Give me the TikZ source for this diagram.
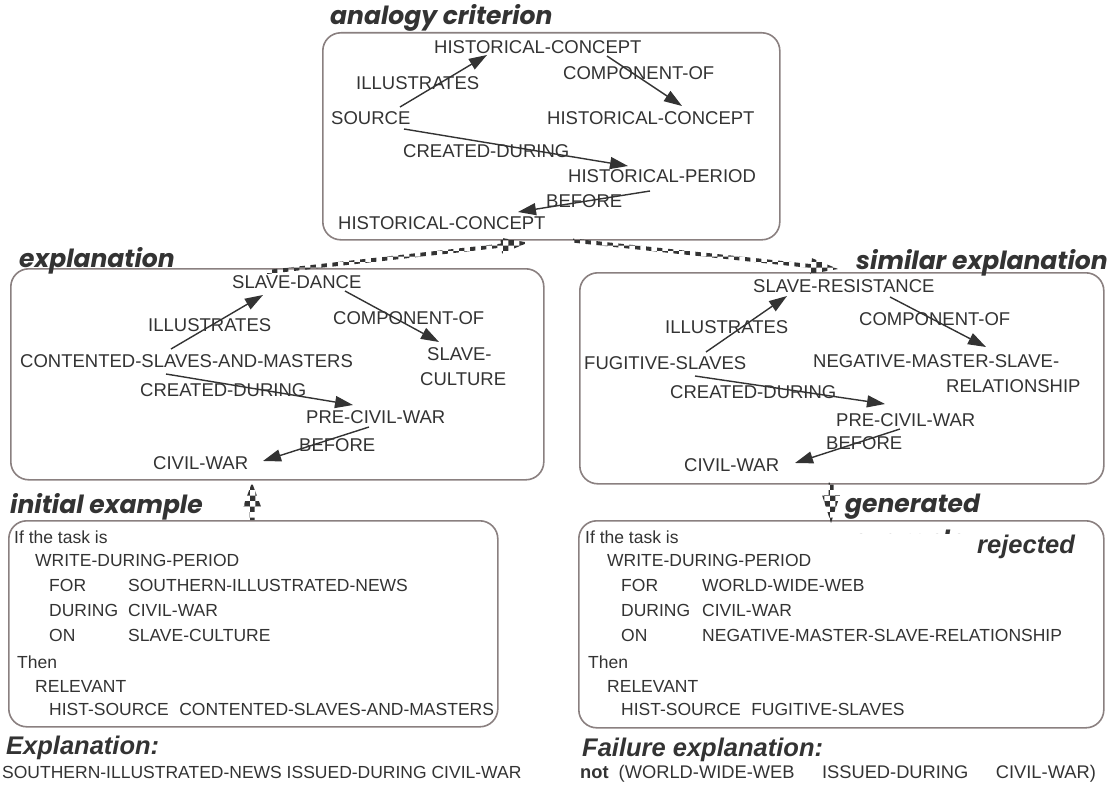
\documentclass[tikz,border=0pt]{standalone}
\usepackage{fontspec}
\setmainfont{Liberation Sans}
\newfontfamily\ttlfont{Poppins}
\usetikzlibrary{arrows.meta,calc,patterns}

\definecolor{ink}{HTML}{333333}
\definecolor{frame}{HTML}{8A8080}

\newcommand\graphsize{\fontsize{18.5}{22}\selectfont}
\newcommand\rulesize{\fontsize{17.5}{21}\selectfont}
\newcommand\failsize{\fontsize{18.3}{22}\selectfont}
\newcommand\headfont{\ttlfont\bfseries\itshape\fontsize{25}{28}\selectfont}
\newcommand\notefont{\bfseries\itshape\fontsize{25.5}{29}\selectfont}

% checkered block arrow: start, end, head length, head half width, shaft half width
\newcommand\hatcharrow[5]{%
  \fill[pattern=checkerboard, pattern color=black!80]
    let \p1=(#1), \p2=(#2),
        \n1={atan2(\y2-\y1,\x2-\x1)},
        \n2={veclen(\x2-\x1,\y2-\y1)} in
    [shift={(\x1,\y1)}, rotate=\n1]
    (0,#5) -- ({\n2-#3},#5) -- ({\n2-#3},#4) -- ({\n2},0)
    -- ({\n2-#3},-#4) -- ({\n2-#3},-#5) -- (0,-#5) -- cycle;}

\begin{document}
\begin{tikzpicture}[x=1pt,y=-1pt,
  panel/.style={draw=frame, line width=1.6pt, rounded corners=18pt,
    fill=white, anchor=north west, inner sep=0pt},
  lbl/.style={anchor=base west, inner sep=0pt, text=ink, font=\graphsize},
  rl/.style={anchor=base west, inner sep=0pt, text=ink, font=\rulesize},
  ttl/.style={anchor=base west, inner sep=0pt, text=ink, font=\headfont},
  note/.style={anchor=base west, inner sep=0pt, text=ink, font=\notefont},
  rel/.style={draw=ink, line width=1.4pt, -{Triangle[length=18pt,width=12pt]}}]
\useasboundingbox (0,0) rectangle (1110,784);

% ---------- panels ----------
\node[panel, minimum width=457pt, minimum height=207pt] (crit) at (322,32) {};
\node[panel, minimum width=533pt, minimum height=211pt] (expl) at (10,268) {};
\node[panel, minimum width=524pt, minimum height=211pt] (sim) at (579,272) {};
\node[panel, minimum width=489pt, minimum height=206pt] (init) at (8,520) {};
\node[panel, minimum width=525pt, minimum height=207pt] (gen) at (578,520) {};

% ---------- checkered links between panels ----------
\coordinate (h1s) at ([shift={(257,4)}]expl.north west);
\coordinate (h1e) at ([shift={(206,2)}]crit.south west);
\coordinate (h2s) at ([shift={(251,0)}]crit.south west);
\coordinate (h2e) at ([shift={(259,-3)}]sim.north west);
\coordinate (h3s) at ([shift={(244,0)}]init.north west);
\coordinate (h3e) at ([shift={(242,2)}]expl.south west);
\coordinate (h4s) at ([shift={(252,-2)}]sim.south west);
\coordinate (h4e) at ([shift={(253,3)}]gen.north west);
\hatcharrow{h1s}{h1e}{27}{8}{2}
\hatcharrow{h2s}{h2e}{27}{8}{2}
\hatcharrow{h3s}{h3e}{24}{9}{2.5}
\hatcharrow{h4s}{h4e}{28}{9}{2.5}

% ---------- titles ----------
\node[ttl] (tcrit) at (330,25) {analogy criterion};
\node[ttl] (texpl) at (19,267) {explanation};
\node[ttl] (tsim) at (856,269) {similar explanation};
\node[ttl] (tinit) at (10,513) {initial example};
\node[ttl] (tgen) at (845,512) {generated};
\node[ttl] (tgen2) at (852,548) {example};
\fill[white] (840,534) rectangle (990,562);
\node[note] (trej) at (977,553) {rejected};

% ---------- analogy criterion ----------
\node[lbl] (hc1) at (434,53) {HISTORICAL-CONCEPT};
\node[lbl] (ill1) at (356,89) {ILLUSTRATES};
\node[lbl] (comp1) at (563,79) {COMPONENT-OF};
\node[lbl] (src) at (331,124) {SOURCE};
\node[lbl] (hc2) at (547,124) {HISTORICAL-CONCEPT};
\node[lbl] (cd1) at (403,157) {CREATED-DURING};
\node[lbl] (hp) at (568,182) {HISTORICAL-PERIOD};
\node[lbl] (bef1) at (546,207) {BEFORE};
\node[lbl] (hc3) at (338,229) {HISTORICAL-CONCEPT};
\draw[rel] ([shift={(69,-17)}]src.base west) -- ([shift={(53,2)}]hc1.base west);
\draw[rel] ([shift={(173,3)}]hc1.base west) -- ([shift={(135,-18)}]hc2.base west);
\draw[rel] ([shift={(73,5)}]src.base west) -- ([shift={(60,-16)}]hp.base west);
\draw[rel] ([shift={(82,9)}]hp.base west) -- ([shift={(180,-17)}]hc3.base west);

% ---------- explanation ----------
\node[lbl] (sd) at (232,288) {SLAVE-DANCE};
\node[lbl] (ill2) at (148,331) {ILLUSTRATES};
\node[lbl] (comp2) at (333,324) {COMPONENT-OF};
\node[lbl] (csm) at (20,367) {CONTENTED-SLAVES-AND-MASTERS};
\node[lbl] (sc1) at (427,360) {SLAVE-};
\node[lbl] (sc2) at (420,385) {CULTURE};
\node[lbl] (cd2) at (140,396) {CREATED-DURING};
\node[lbl] (pcw2) at (306,423) {PRE-CIVIL-WAR};
\node[lbl] (bef2) at (299,451) {BEFORE};
\node[lbl] (cw2) at (153,469) {CIVIL-WAR};
\draw[rel] ([shift={(151,-18)}]csm.base west) -- ([shift={(31,7)}]sd.base west);
\draw[rel] ([shift={(113,3)}]sd.base west) -- ([shift={(12,-18)}]sc1.base west);
\draw[rel] ([shift={(146,7)}]csm.base west) -- ([shift={(47,-18)}]pcw2.base west);
\draw[rel] ([shift={(63,4)}]pcw2.base west) -- ([shift={(110,-8)}]cw2.base west);

% ---------- similar explanation ----------
\node[lbl] (sr) at (753,292) {SLAVE-RESISTANCE};
\node[lbl] (ill3) at (665,333) {ILLUSTRATES};
\node[lbl] (comp3) at (859,325) {COMPONENT-OF};
\node[lbl] (fs) at (584,369) {FUGITIVE-SLAVES};
\node[lbl] (nm1) at (813,367) {NEGATIVE-MASTER-SLAVE-};
\node[lbl] (nm2) at (946,392) {RELATIONSHIP};
\node[lbl] (cd3) at (670,398) {CREATED-DURING};
\node[lbl] (pcw3) at (836,426) {PRE-CIVIL-WAR};
\node[lbl] (bef3) at (826,449) {BEFORE};
\node[lbl] (cw3) at (684,471) {CIVIL-WAR};
\draw[rel] ([shift={(122,-17)}]fs.base west) -- ([shift={(34,4)}]sr.base west);
\draw[rel] ([shift={(137,5)}]sr.base west) -- ([shift={(173,-20)}]nm1.base west);
\draw[rel] ([shift={(111,7)}]fs.base west) -- ([shift={(49,-22)}]pcw3.base west);
\draw[rel] ([shift={(64,3)}]pcw3.base west) -- ([shift={(111,-8)}]cw3.base west);

% ---------- initial example ----------
\node[rl] (i1) at (14,543) {If the task is};
\node[rl] (i2) at (35,566) {WRITE-DURING-PERIOD};
\node[rl] (i3) at (49,591) {FOR};
\node[rl] (i3v) at (128,591) {SOUTHERN-ILLUSTRATED-NEWS};
\node[rl] (i4) at (49,616) {DURING};
\node[rl] (i4v) at (128,616) {CIVIL-WAR};
\node[rl] (i5) at (49,641) {ON};
\node[rl] (i5v) at (128,641) {SLAVE-CULTURE};
\node[rl] (i6) at (17,668) {Then};
\node[rl] (i7) at (35,692) {RELEVANT};
\node[rl] (i8) at (49,715) {HIST-SOURCE\hspace{0.6em}CONTENTED-SLAVES-AND-MASTERS};

% ---------- generated example ----------
\node[rl] (g1) at (585,543) {If the task is};
\node[rl] (g2) at (607,566) {WRITE-DURING-PERIOD};
\node[rl] (g3) at (621,591) {FOR};
\node[rl] (g3v) at (702,591) {WORLD-WIDE-WEB};
\node[rl] (g4) at (621,616) {DURING};
\node[rl] (g4v) at (702,616) {CIVIL-WAR};
\node[rl] (g5) at (621,641) {ON};
\node[rl] (g5v) at (702,641) {NEGATIVE-MASTER-SLAVE-RELATIONSHIP};
\node[rl] (g6) at (588,668) {Then};
\node[rl] (g7) at (607,692) {RELEVANT};
\node[rl] (g8) at (621,715) {HIST-SOURCE\hspace{0.6em}FUGITIVE-SLAVES};

% ---------- explanations below ----------
\node[note] (nexp) at (6,754) {Explanation:};
\node[rl] (nexpt) at (2,778) {SOUTHERN-ILLUSTRATED-NEWS ISSUED-DURING CIVIL-WAR};
\node[note] (nfail) at (582,756) {Failure explanation:};
\node[rl, font=\failsize] (nfailt) at (580,778) {\textbf{not}\hspace{0.55em}(WORLD-WIDE-WEB\hspace{1.5em}ISSUED-DURING\hspace{1.5em}CIVIL-WAR)};
\end{tikzpicture}
\end{document}
